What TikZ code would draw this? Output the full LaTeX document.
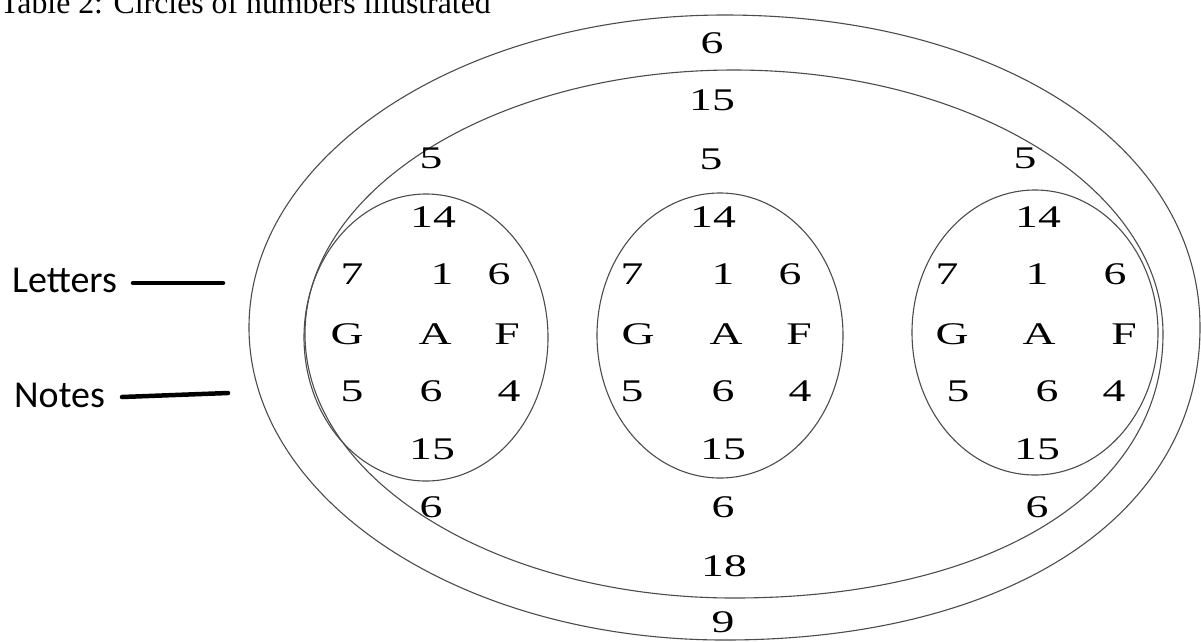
\documentclass[tikz,border=0pt]{standalone}
\usepackage{fontspec}
\setmainfont{Liberation Serif}
\newfontfamily\numfont[FakeStretch=1.45]{Liberation Serif}
\newfontfamily\labfont{Carlito}
\begin{document}
\begin{tikzpicture}[x=1pt,y=-1pt,
  ring/.style={draw=black!70, line width=1.1pt},
  num/.style={font=\numfont\fontsize{31.5}{32}\selectfont, inner sep=0pt, anchor=center},
  lab/.style={font=\labfont\fontsize{38}{40}\selectfont, inner sep=0pt, anchor=base west},
  lead/.style={line width=4.5pt, line cap=round, draw=black}]
\useasboundingbox (0,0) rectangle (1201,641);
\fill[white] (0,0) rectangle (1201,641);

% title
\node[anchor=base west, inner sep=0pt, font=\fontsize{31.8}{34}\selectfont] (title) at (0,13) {Table 2: Circles of numbers illustrated};

% outer ring
\draw[ring] (724.5,15) .. controls (1000.3,15) and (1200,146.25) .. (1200,327.5)
  .. controls (1200,515) and (1009.8,640) .. (724.5,640)
  .. controls (461.9,640) and (249,500.1) .. (249,327.5)
  .. controls (249,154.9) and (461.9,15) .. cycle;
% second ring
\draw[ring] (734,70) .. controls (970.9,70) and (1163,188.2) .. (1163,334)
  .. controls (1163,492.4) and (991.4,598) .. (734,598)
  .. controls (497.1,598) and (305,479.8) .. (305,334)
  .. controls (305,188.2) and (497.1,70) .. cycle;
% inner rings
\draw[ring] (426,337.5) ellipse [x radius=122pt, y radius=143.5pt];
\draw[ring] (720,335.5) ellipse [x radius=123pt, y radius=142.5pt];
\draw[ring] (1035,332.5) ellipse [x radius=123pt, y radius=142.5pt];

% numbers and letters
\foreach \px/\py/\t/\n in {
  712/43/6/oTop, 712/100/15/sTop, 724/566/18/sBot, 723/622/9/oBot,
  431/158/5/fiveL, 711/159/5/fiveM, 1025/158/5/fiveR,
  433/217/14/ftL, 713/217/14/ftM, 1038/217/14/ftR,
  352/274/7/sevL, 442/274/1/oneL, 499/274/6/sixL,
  632/274/7/sevM, 723/274/1/oneM, 790/274/6/sixM,
  947/274/7/sevR, 1037/274/1/oneR, 1115/274/6/sixR,
  347/334/G/gL, 435/334/A/aL, 507/334/F/fL,
  638/334/G/gM, 726/334/A/aM, 799/334/F/fM,
  952/334/G/gR, 1039/334/A/aR, 1124/334/F/fR,
  352/391/5/nfL, 431/391/6/nsL, 509/391/4/nqL,
  632/391/5/nfM, 723/391/6/nsM, 800/391/4/nqM,
  958/391/5/nfR, 1047/391/6/nsR, 1114/391/4/nqR,
  432/449/15/ffL, 723/449/15/ffM, 1037/449/15/ffR,
  431/507/6/bsL, 723/507/6/bsM, 1037/507/6/bsR}
  \node[num] (\n) at (\px,\py) {\t};

% side labels
\node[lab] (letters) at (12,292) {Letters};
\node[lab] (notes) at (14,407) {Notes};
\coordinate (lettersA) at (133,283);
\coordinate (lettersB) at (223,283);
\coordinate (notesA) at (122,397);
\coordinate (notesB) at (228,393);
\draw[lead] (lettersA) -- (lettersB);
\draw[lead] (notesA) -- (notesB);
\end{tikzpicture}
\end{document}
